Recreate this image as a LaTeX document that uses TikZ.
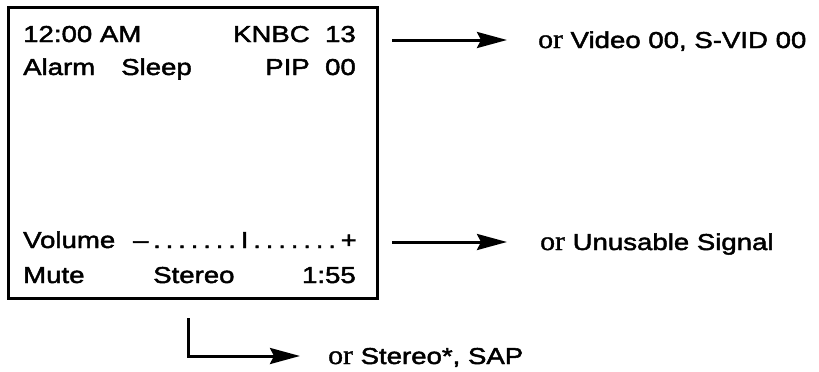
\documentclass[tikz,border=0pt]{standalone}
\usepackage{fontspec}
\usetikzlibrary{arrows.meta}
\newfontfamily\scrfont[FakeStretch=1.2,FakeBold=2]{Liberation Sans}
\newfontfamily\orfont[FakeStretch=1.1,FakeBold=1.2]{Liberation Serif}
\begin{document}
\begin{tikzpicture}[x=1pt,y=-1pt,
  scr/.style={inner sep=0pt, font=\scrfont\fontsize{23}{27}\selectfont},
  lbl/.style={inner sep=0pt, anchor=base west, font=\scrfont\fontsize{23}{27}\selectfont},
  orst/.style={font=\orfont\fontsize{27}{27}\selectfont},
  arr/.style={line width=3pt, -{Stealth[length=30pt,width=16pt,inset=4pt]}},
  boxst/.style={draw, line width=3pt, minimum width=369pt, minimum height=291pt, inner sep=0pt, anchor=north west}]
\useasboundingbox (0,0) rectangle (819,372);
\node[boxst] (screen) at (7,6) {};
% screen texts
\node[scr, anchor=base west] (t1) at (23,42) {12:00 AM};
\node[scr, anchor=base east] (t2) at (356,42) {KNBC\ \ 13};
\node[scr, anchor=base west] (t3) at (23,75) {Alarm};
\node[scr, anchor=base west] (t4) at (121,75) {Sleep};
\node[scr, anchor=base east] (t5) at (356,75) {PIP\ \ 00};
\node[scr, anchor=base west] (t6) at (23,248) {Volume};
\node[scr, anchor=base east] (t7) at (357,248) {\addfontfeature{LetterSpace=21}–.......I.......+};
\node[scr, anchor=base west] (t8) at (23,283) {Mute};
\node[scr, anchor=base west] (t9) at (153,283) {Stereo};
\node[scr, anchor=base east] (t10) at (356,283) {1:55};
% right labels
\node[lbl] (r1) at (538,48) {{\orfont\fontsize{27}{27}\selectfont or} Video 00, S-VID 00};
\node[lbl] (r2) at (540,250) {{\orfont\fontsize{27}{27}\selectfont or} Unusable Signal};
\node[lbl] (r3) at (328,364) {{\orfont\fontsize{27}{27}\selectfont or} Stereo*, SAP};
% arrows
\coordinate (a1s) at (392,40);
\coordinate (a1e) at (507,40);
\coordinate (a2s) at (392,242);
\coordinate (a2e) at (507,242);
\coordinate (a3s) at (188,318);
\coordinate (a3c) at (188,356);
\coordinate (a3e) at (300,356);
\draw[arr] (a1s) -- (a1e);
\draw[arr] (a2s) -- (a2e);
\draw[arr] (a3s) -- (a3c) -- (a3e);
\end{tikzpicture}
\end{document}
